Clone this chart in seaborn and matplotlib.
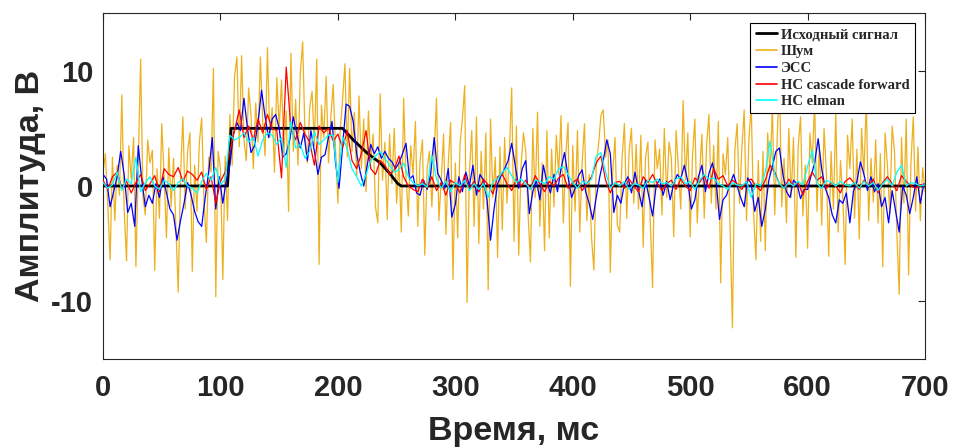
import numpy as np
import pandas as pd
import matplotlib
matplotlib.use("Agg")
import matplotlib.pyplot as plt
import seaborn as sns

# исходный сигнал (узлы ломаной), мс / В
sig_t = [0, 106, 109, 204, 213, 225, 236, 244, 251, 254, 700]
sig_v = [0, 0, 5, 5, 4.0, 2.85, 2.0, 1.1, 0.2, 0, 0]

# шум, шаг 2 мс
noise = [
    1.2, 2.8, -1.5, -6.4, 2.5, -3.0, 1.8, -0.8, 7.9, -2.1,
    -6.5, 3.5, 0.6, 4.2, -7.0, 2.2, 11.0, -1.0, -2.5, 4.0,
    2.0, 3.1, -7.3, 1.5, -2.8, 5.4, 0.9, -4.5, 3.3, -1.8,
    2.4, -3.5, -9.2, 1.0, 6.0, -2.0, 3.0, 4.6, -7.4, 1.8,
    -2.2, 3.8, 5.9, -1.5, -4.9, 2.5, 1.2, 10.2, -9.6, 3.0,
    1.5, -8.1, 2.6, -3.0, 6.2, 1.8, 9.5, 11.2, 3.4, 11.3,
    4.0, 2.2, 8.5, 6.1, 1.5, 7.2, 3.8, 11.2, 5.5, 2.6,
    12.0, 4.2, 6.8, 1.2, 9.4, 5.0, 9.2, 2.8, 6.5, -2.2,
    11.5, 3.0, 7.5, 1.8, 9.8, 12.5, 4.4, 2.0, 6.8, 8.2,
    3.5, 11.0, -6.8, 7.0, 4.2, 9.5, 2.0, 6.0, 8.8, 3.2,
    -1.5, 4.8, 7.5, 10.6, 2.5, 10.2, 3.0, 6.4, 0.8, 7.8,
    1.5, 5.8, -0.5, 6.5, 2.0, 4.5, -1.8, -3.2, 8.0, 0.5,
    3.8, -2.9, 4.5, 0.2, 5.0, -1.5, 2.2, -4.0, 7.6, 0.8,
    -2.6, 3.5, 1.0, 5.6, -3.5, 2.2, 4.0, -6.0, 1.5, 3.0,
    -1.8, 2.8, 7.6, -3.0, 0.5, 4.5, -4.2, 2.0, 5.5, -8.1,
    2.0, -4.5, 3.6, 5.8, 8.7, -10.1, 1.2, 4.8, -3.5, 6.0,
    -5.0, 3.0, -2.0, 4.6, -9.0, 5.8, -1.0, 2.5, -6.2, 3.4,
    -3.8, 4.2, -1.5, 2.8, 8.5, -4.8, 5.2, -6.0, 1.8, 4.6,
    3.0, -2.5, -6.6, 5.0, -1.0, 6.4, -3.5, 2.0, -5.6, 4.8,
    -4.5, 3.2, -1.8, 4.4, 1.0, 6.1, -3.2, 2.6, 5.5, -8.7,
    3.5, -2.2, 4.8, -4.0, 2.0, 5.4, -3.0, 1.0, -4.5, -7.3,
    1.8, 3.6, 6.1, 6.6, 2.5, 4.0, -7.5, 1.2, 4.2, -3.4,
    -4.0, 2.4, 5.4, -2.8, 3.0, 5.0, -1.5, 3.6, -2.0, 4.4,
    -5.3, 2.5, 3.8, -3.0, -8.8, 4.0, 1.5, 3.2, -2.5, 5.0,
    -1.0, 3.8, 2.4, -4.4, 4.8, 1.5, -2.0, 7.4, 0.5, 4.6,
    -4.4, 2.6, 5.8, -3.2, 1.0, 4.5, -2.8, 3.6, 6.2, -1.5,
    3.5, -2.0, 5.6, -8.4, 2.8, 1.0, 4.2, -3.6, -12.3, 3.0,
    5.4, -1.5, 3.2, 6.6, -3.0, 4.0, 7.0, -2.4, -6.4, 2.2,
    -4.8, 3.0, -5.6, 4.6, 1.0, 6.8, -2.5, 3.8, 9.3, -1.8,
    2.4, -3.2, 5.0, -1.0, 4.2, -6.2, 3.4, 6.0, -2.6, 1.8,
    -5.4, 4.6, 2.0, 7.2, -2.2, 3.6, -3.4, 5.0, 1.2, -6.1,
    3.0, -2.0, 6.4, -4.0, 2.2, -1.0, -6.8, 4.4, 1.5, 5.8,
    -2.8, 3.2, -4.6, 5.0, 1.0, 7.4, -3.0, 2.4, -1.4, 4.0,
    -3.2, 2.8, -7.0, 4.6, 1.8, -2.5, 5.2, 3.0, -4.0, -9.4,
    4.2, -1.5, 5.8, -7.7, 2.0, 6.0, -2.2, 3.4, -3.0, 1.6,
    -0.5,
]

# ЭСС, шаг 3 мс
ess = [
    1.0, 0.6, -1.8, -0.5, 0.8, 3.0, 1.0, -2.3, -1.5, -3.5,
    3.5, 0.5, -1.8, -0.8, -1.5, 0.2, -1.0, 0.8, -0.6, -2.0,
    -2.5, -4.7, -3.0, -1.5, 0.3, -0.8, -2.2, -3.1, -3.5, -1.0,
    1.2, 4.2, -2.0, 0.8, -1.5, 0.5, 1.8, 4.5, 5.5, 4.8,
    7.6, 5.0, 2.9, 3.5, 5.5, 8.3, 6.0, 4.2, 5.8, 6.2,
    5.0, 2.5, 2.8, 4.0, 6.0, 4.5, 3.3, 4.6, 2.2, 4.8,
    3.0, 1.0, 2.5, 2.7, 4.2, 5.6, 2.0, -0.2, 3.5, 7.1,
    6.9, 5.6, 2.8, 1.2, 0.0, 1.8, 3.6, 2.8, 3.4, 2.4,
    3.0, 2.4, 2.1, 1.5, 2.0, 2.8, 3.7, 0.6, 0.9, -0.6,
    -0.8, 0.5, -0.3, 1.0, 4.2, 1.1, 0.5, -0.2, 1.5, -2.7,
    -1.6, 0.8, -0.5, 1.2, 0.0, 1.8, -0.8, 1.0, 0.5, -1.2,
    -4.7, -2.0, 0.2, 0.9, 1.5, 2.2, 3.7, 1.8, -0.2, 1.5,
    2.2, -2.4, -0.5, 0.5, -1.2, 1.8, 0.3, -0.6, 1.0, -0.5,
    1.5, 2.9, 0.8, -1.0, -0.2, 0.9, 1.4, -0.5, -1.5, -2.9,
    -1.0, 0.8, 2.2, 4.0, 2.8, -2.3, -0.8, -1.5, 0.2, 0.8,
    -0.6, 1.2, -0.4, -1.8, 0.5, -1.0, -2.6, 0.0, 0.6, -0.8,
    0.4, -1.2, 0.2, 1.0, 0.6, 1.8, 0.4, -2.0, -1.2, 0.8,
    1.8, -0.5, 1.1, 2.0, 0.5, -2.9, -1.2, -0.8, 0.2, 1.0,
    0.0, -1.0, -1.8, 0.7, 0.2, -2.2, -1.0, -3.5, -2.0, 0.5,
    1.7, 3.0, 3.3, 1.0, -0.5, -1.0, 0.5, 0.2, -1.1, -0.3,
    -0.3, 0.9, 2.0, 4.1, 1.5, -0.2, -1.0, -2.5, -3.2, -1.2,
    -1.5, -0.6, -3.2, -0.5, 0.4, 2.1, 1.0, -0.4, 0.8, -0.5,
    0.2, -1.8, -1.0, -3.2, -0.4, -2.2, -4.0, 0.0, -0.8, -2.4,
    -1.0, 0.8, -1.5, 0.2,
]

# НС cascade forward, шаг 4 мс
cascade = [
    0.5, -0.3, 0.8, 1.2, -0.2, 0.4, -0.6, 0.3, 1.0, -0.4,
    0.2, 0.9, -0.5, 1.5, 1.0, 0.8, 1.6, 0.4, 1.3, 1.0,
    0.5, 1.2, -0.3, 0.8, -1.5, 0.4, 1.2, 3.0, 4.8, 6.6,
    4.2, 5.2, 4.0, 5.8, 4.6, 6.2, 5.0, 4.8, 0.7, 10.3,
    5.0, 4.0, 5.5, 4.5, 3.8, 1.8, 5.2, 4.6, 5.0, 3.9,
    4.5, 3.3, 4.8, 2.2, 1.5, 2.8, 4.8, 1.5, 1.0, 2.2,
    1.8, 1.0, 1.4, 2.6, 0.8, 0.0, -0.3, -0.5, 0.6, -0.2,
    0.8, -0.4, 0.3, -0.8, 0.5, 0.2, -0.6, 1.0, -0.3, 0.4,
    -0.5, 0.6, 0.1, -0.7, 0.8, 1.0, 0.2, -0.4, 0.6, 0.0,
    0.5, -0.3, 0.9, 0.2, -0.5, 0.4, 0.0, 0.7, 1.0, -0.2,
    0.3, 0.6, -0.4, 0.2, 0.8, 2.0, 2.6, 0.5, -0.6, 0.3,
    0.4, -0.2, 0.6, 0.0, -0.5, 0.8, 0.3, 1.0, 0.2, -0.4,
    0.2, 0.5, -0.3, 0.6, 0.0, -0.4, 0.7, 0.3, 0.9, -0.2,
    1.5, 0.6, 0.9, 0.0, 0.5, 0.2, -0.3, 0.4, 0.6, 0.0,
    -0.4, 0.5, 1.8, 1.2, 0.2, -0.2, 0.6, 0.0, 0.3, -0.8,
    0.4, 1.2, 0.5, 0.8, -0.2, 0.3, 0.0, -0.6, 0.4, 0.7,
    0.2, -0.3, 0.5, 0.0, 0.6, -0.6, 0.3, 0.8, 0.2, -0.4,
    0.9, 0.4, 0.0, -0.2, 0.1, 0.0,
]

# НС elman, шаг 4 мс
elman = [
    0.3, -0.2, 0.1, 1.2, -0.4, 0.6, 0.2, 2.5, -0.5, 0.3,
    0.8, 0.0, -0.3, 0.5, 0.2, -0.4, 0.3, 0.6, 0.0, -0.2,
    -0.6, 0.4, 1.1, 0.5, 1.6, 0.1, 0.6, 4.4, 4.0, 4.2,
    4.6, 3.8, 4.2, 2.6, 4.0, 4.6, 4.4, 3.6, 4.2, 1.6,
    5.6, 3.3, 3.6, 2.4, 3.0, 4.7, 3.6, 4.0, 4.4, 4.4,
    0.3, 4.3, 3.2, 1.5, 0.8, 0.0, 1.0, 2.2, 2.6, 3.0,
    2.4, 1.8, 1.2, 1.4, 2.0, 0.8, 0.3, 0.0, 0.2, -0.1,
    2.7, 0.6, -0.2, 0.4, -0.5, 0.3, 0.0, 0.5, -0.4, 0.2,
    -0.3, 0.2, -1.0, 0.4, 0.6, 1.2, 1.6, 0.9, 0.3, 0.6,
    0.2, -0.3, 0.5, 0.4, 0.2, 0.8, 0.6, 1.5, 1.7, 1.0,
    0.3, -0.2, 0.4, 0.2, 0.6, 2.6, 2.9, 1.2, -0.2, 0.3,
    0.0, 0.4, -0.3, 0.2, 0.1, -0.2, 0.5, 0.3, 0.6, 0.2,
    0.3, 0.0, 0.6, 0.8, 0.2, 0.4, -0.3, 0.5, 1.0, 0.6,
    0.7, 0.2, 0.0, -0.3, 0.3, 0.1, 0.0, 0.4, -1.0, 0.2,
    0.0, 1.2, 3.9, 1.0, 0.2, -0.2, 0.3, 0.0, 0.4, 0.1,
    1.7, 3.1, 0.2, -0.2, 0.5, 0.3, 0.0, 0.4, 0.1, 0.0,
    0.3, -0.2, 0.4, 0.0, 0.3, -0.4, 0.2, 0.6, 0.0, 1.2,
    1.8, 0.0, 0.3, 0.2, 0.0, 0.1,
]

x_ticks = [0, 100, 200, 300, 400, 500, 600, 700]
y_ticks = [-10, 0, 10]

series = [
    ("Исходный сигнал", sig_t, sig_v, "black", 2.0, 3),
    ("Шум", np.arange(len(noise)) * 2, noise, "#EDB120", 0.9, 1),
    ("ЭСС", np.arange(len(ess)) * 3, ess, "#0000FF", 0.9, 4),
    ("НС cascade forward", np.arange(len(cascade)) * 4, cascade, "#FF0000", 0.9, 5),
    ("НС elman", np.arange(len(elman)) * 4, elman, "#00FFFF", 0.9, 6),
]

sns.set_style("white")
plt.rcParams["font.family"] = ["Liberation Sans", "DejaVu Sans"]
plt.rcParams["axes.unicode_minus"] = False

fig = plt.figure(figsize=(9.55, 4.48), dpi=100)
ax = fig.add_axes([0.1079, 0.1987, 0.8607, 0.7723])

for name, t, v, col, lw, z in series:
    df = pd.DataFrame({"t": t, "v": v})
    sns.lineplot(data=df, x="t", y="v", ax=ax, color=col, linewidth=lw,
                 label=name, zorder=z, sort=False, estimator=None)

ax.set_xlim(0, 700)
ax.set_ylim(-15, 15)
ax.set_xticks(x_ticks)
ax.set_yticks(y_ticks)
ax.set_xlabel("Время, мс", fontsize=24.5, fontweight="bold", labelpad=10)
ax.set_ylabel("Амплитуда, В", fontsize=24.5, fontweight="bold", labelpad=4)
ax.tick_params(direction="in", length=5, width=0.8, top=True, right=True,
               labelsize=21, colors="#262626")
ax.tick_params(axis="x", pad=11)
ax.tick_params(axis="y", pad=7)
for lab in ax.get_xticklabels() + ax.get_yticklabels():
    lab.set_fontweight("bold")
for sp in ax.spines.values():
    sp.set_color("#262626")
    sp.set_linewidth(0.8)

leg = ax.legend(loc="upper right", fancybox=False, framealpha=1, edgecolor="black",
                prop={"family": ["Liberation Serif", "DejaVu Serif"], "weight": "bold", "size": 10.5},
                handlelength=1.5, borderpad=0.35, labelspacing=0.24, handletextpad=0.25,
                borderaxespad=0.7)
leg.get_frame().set_linewidth(0.8)
for h in leg.get_lines():
    h.set_linewidth(2.0 if h.get_color() == "black" else 1.2)

fig.savefig("out.png", dpi=100)
